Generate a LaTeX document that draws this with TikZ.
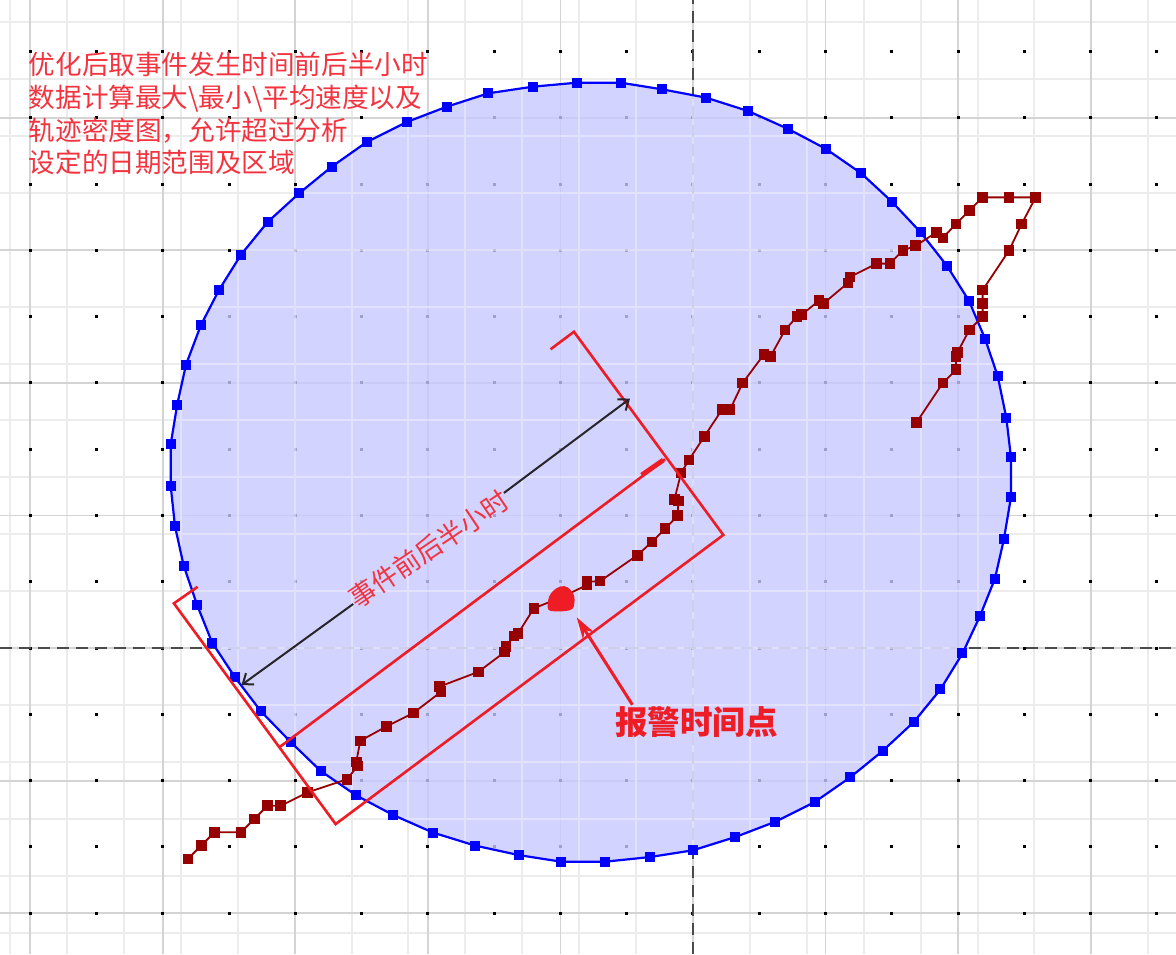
\documentclass[tikz,border=0pt]{standalone}
\usepackage{fontspec}
\newfontfamily\cjk{Noto Sans CJK SC}
\usetikzlibrary{arrows.meta, plotmarks}

\definecolor{zoneblue}{RGB}{0,0,255}
\definecolor{zonetint}{RGB}{200,200,255}
\definecolor{trackred}{RGB}{150,0,0}
\definecolor{annotred}{RGB}{238,28,36}
\definecolor{notered}{RGB}{243,52,64}
\definecolor{minorgray}{RGB}{236,236,236}
\definecolor{majorgray}{RGB}{212,212,212}
\definecolor{axisgray}{RGB}{75,75,75}
\definecolor{spanblack}{RGB}{38,38,42}

\tikzset{
    minorgrid/.style={minorgray, line width=1pt},
    majorgrid/.style={majorgray, line width=0.9pt, step=10},
    axisline/.style={axisgray, line width=0.75pt, dash pattern=on 6pt off 3.5pt},
    zonefill/.style={fill=zonetint, fill opacity=0.8},
    zoneline/.style={zoneblue, line width=1.1pt},
    trackline/.style={trackred, line width=0.9pt},
    annot/.style={annotred, line width=1.3pt},
    spanarrow/.style={spanblack, line width=1pt, -{Straight Barb[length=4.5pt,width=7pt]}},
    alarmarrow/.style={annotred, line width=1.5pt, -{Stealth[length=11pt,width=6.5pt]}},
    notetext/.style={text=notered, font=\cjk\fontsize{13.3}{16.4}\selectfont, inner sep=0pt},
    alarmtext/.style={text=annotred, font=\cjk\bfseries\fontsize{16.3}{19}\selectfont, inner sep=0pt}
}

\def\zonepts{-5.45/42.65, -2.32/42.15, 1.00/41.52, 4.17/40.51, 7.19/39.16,
    10.01/37.67, 12.70/35.81, 15.01/33.67, 17.18/31.36, 19.16/28.84, 20.82/26.20,
    22.03/23.35, 22.99/20.52, 23.64/17.37, 23.99/14.39, 23.99/11.39, 23.46/8.22,
    22.78/5.23, 21.65/2.41, 20.33/-0.41, 18.67/-3.12, 16.66/-5.58, 14.30/-7.77,
    11.87/-9.75, 9.18/-11.62, 6.22/-13.10, 3.19/-14.26, -0.01/-15.26, -3.27/-15.77,
    -6.65/-16.12, -9.94/-16.12, -13.14/-15.62, -16.45/-14.90, -19.62/-13.92,
    -22.61/-12.60, -25.42/-11.11, -28.10/-9.26, -30.33/-7.11, -32.59/-4.78,
    -34.55/-2.21, -36.27/0.40, -37.40/3.22, -38.42/6.21, -39.08/9.20, -39.40/12.22,
    -39.40/15.39, -38.91/18.36, -38.25/21.37, -37.12/24.37, -35.76/27.01,
    -34.10/29.67, -32.09/32.14, -29.72/34.30, -27.26/36.31, -24.62/38.17,
    -21.60/39.68, -18.58/40.84, -15.44/41.85, -12.09/42.35}

\begin{document}
\begin{tikzpicture}[x=6.6275pt, y=6.6275pt]
    \useasboundingbox (-52.28,-23.09) rectangle (36.44,48.89);
    \fill[white] (-52.28,-23.09) rectangle (36.44,48.89);

    \draw[minorgrid] (-52.28,-23.09) grid (36.44,48.89);
    \draw[majorgrid] (-52.28,-23.09) grid (36.44,48.89);
    \foreach \i in {-50,-45,...,35}
        \foreach \j in {-20,-15,...,45}
            \fill (\i,\j) +(-0.75pt,-0.75pt) rectangle +(0.75pt,0.75pt);
    \draw[axisline] (-52.28,0) -- (36.44,0);
    \draw[axisline] (0,-23.09) -- (0,48.89);

    \fill[zonefill] (-8.77,42.65) \foreach \x/\y in \zonepts {-- (\x,\y)} -- cycle;
    \begin{scope}
        \clip (-8.77,42.65) \foreach \x/\y in \zonepts {-- (\x,\y)} -- cycle;
        \draw[white, opacity=0.4, line width=1pt] (-52.28,-23.09) grid (36.44,48.89);
    \end{scope}
    \draw[zoneline] (-8.77,42.65) \foreach \x/\y in \zonepts {-- (\x,\y)} -- cycle;
    \foreach \x/\y in {-8.77/42.65}
        \fill[zoneblue] (\x,\y) +(-2.5pt,-2.5pt) rectangle +(2.5pt,2.5pt);
    \foreach \x/\y in \zonepts
        \fill[zoneblue] (\x,\y) +(-2.5pt,-2.5pt) rectangle +(2.5pt,2.5pt);

    \draw[trackline, mark=square*, mark size=2.2pt, mark options={fill=trackred, draw=trackred}]
        plot coordinates {
        (-38.1,-15.9) (-37.1,-14.9) (-36.1,-13.9) (-34.1,-13.9) (-33.1,-12.9)
        (-32.1,-11.9) (-31.1,-11.9) (-29.1,-10.9) (-26.1,-9.9) (-25.3,-8.9)
        (-25.4,-8.6) (-25.1,-7.0) (-23.1,-5.9) (-21.1,-4.9) (-19.0,-3.3)
        (-19.1,-2.9) (-16.2,-1.8) (-14.2,-0.3) (-14.1,0.1) (-13.5,0.9)
        (-13.2,1.1) (-12.0,3.0) (-10.0,3.8) (-8.0,4.75) (-8.0,5.0) (-7.0,5.05)
        (-4.2,7.0) (-3.1,8.0) (-2.1,9.0) (-1.15,10.0) (-1.1,11.1) (-1.4,11.2)
        (-0.9,13.2) (-0.3,14.2) (0.85,15.95) (2.2,18.0) (2.8,18.0) (3.75,20.0)
        (5.35,22.15) (5.85,22.0) (6.95,24.0) (7.85,25.0) (8.2,25.15) (9.5,26.2)
        (9.85,26.0) (11.7,27.55) (11.85,28.0) (13.85,29.0) (14.85,29.0)
        (15.85,30.0) (16.8,30.35) (18.35,31.35) (18.85,30.95) (19.85,32.0)
        (20.85,33.0) (21.85,34.0) (23.85,34.0) (25.85,34.0) (24.8,32.0)
        (23.85,30.0) (21.85,27.0) (21.85,26.0) (21.85,25.0) (20.85,24.0)
        (19.95,22.3) (19.85,22.0) (19.85,21.0) (18.85,20.0) (16.85,17.0)};

    \draw[annot] (-37.37,4.62) -- (-39.16,3.37) -- (-26.96,-13.28) -- (2.29,8.53)
        -- (-8.98,23.86) -- (-10.74,22.54);
    \draw[annot] (-31.16,-7.45) -- (-2.11,14.24);
    \draw[annot, line width=2.4pt] (-3.87,13.05) -- (-2.24,14.18);
    \fill[annotred, rounded corners=2pt] (-11.0,2.8) -- (-10.9,3.9) -- (-10.4,4.5)
        -- (-9.7,4.75) -- (-9.2,4.4) -- (-8.9,3.9) -- (-9.0,2.9) -- (-9.9,2.75) -- cycle;

    \coordinate (spanlo) at (-34.06,-2.79);
    \coordinate (spanhi) at (-4.75,18.82);
    \node[notetext, rotate=34] (spanlabel) at (-19.92,7.47) {事件前后半小时};
    \draw[spanarrow] (spanlabel) -- (spanlo);
    \draw[spanarrow] (spanlabel) -- (spanhi);

    \coordinate (alarmtip) at (-8.77,2.32);
    \node[alarmtext] (alarm) at (0.28,-5.56) {报警时间点};
    \draw[alarmarrow] ([xshift=8.8pt,yshift=0.5pt]alarm.north west) -- (alarmtip);

    \node[notetext, anchor=north west, align=left] (note) at (-50.13,44.99)
        {优化后取事件发生时间前后半小时\\数据计算最大\textbackslash 最小\textbackslash 平均速度以及\\轨迹密度图，允许超过分析\\设定的日期范围及区域};
\end{tikzpicture}
\end{document}
